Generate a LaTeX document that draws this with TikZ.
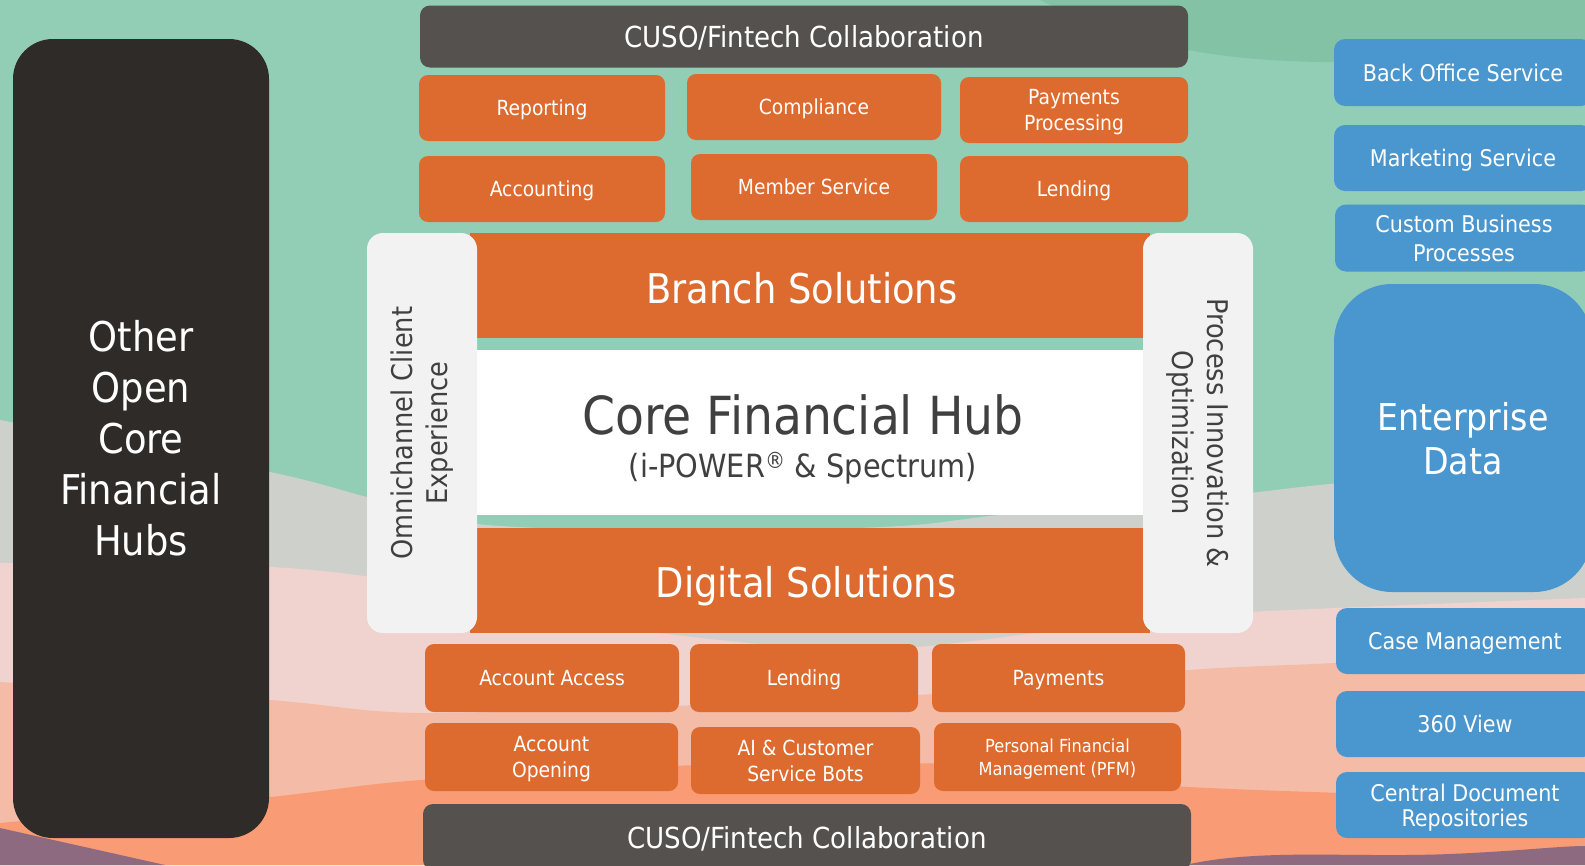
\documentclass[tikz,border=0pt]{standalone}
\usepackage{fontspec}
\setmainfont{DejaVu Sans Condensed}
\usetikzlibrary{positioning}

\definecolor{mint}{HTML}{92CDB6}
\definecolor{deepmint}{HTML}{83C2A5}
\definecolor{haze}{HTML}{CED1CB}
\definecolor{blush}{HTML}{F0D3CE}
\definecolor{salmon}{HTML}{F4BBA7}
\definecolor{peach}{HTML}{F99C75}
\definecolor{dusk}{HTML}{8D6A80}
\definecolor{hubor}{HTML}{DD6A2E}
\definecolor{bargray}{HTML}{55514E}
\definecolor{hubdark}{HTML}{2F2B29}
\definecolor{sidegray}{HTML}{F2F2F2}
\definecolor{svcblue}{HTML}{4A96CF}
\definecolor{inktext}{HTML}{404040}

\newcommand{\fsz}[2]{\fontsize{#1}{#2}\selectfont}

\begin{document}
\begin{tikzpicture}[x=1pt,y=-1pt,
  wh/.style 2 args={minimum width=#1pt, minimum height=#2pt},
  tile/.style={fill=hubor, text=white, rounded corners=9pt, inner sep=0pt, align=center, text depth=0pt, font=\fsz{20.8}{26}},
  bar/.style={fill=bargray, text=white, rounded corners=10pt, inner sep=0pt, text depth=0pt, font=\fsz{29}{34}},
  svc/.style={fill=svcblue, text=white, rounded corners=11pt, inner sep=0pt, align=center, text depth=0pt, font=\fsz{23}{27}},
  side/.style={fill=sidegray, rounded corners=16pt, inner sep=0pt},
  sidetext/.style={text=inktext, align=center, inner sep=0pt, font=\fsz{28.5}{35}},
  band/.style={fill=hubor, inner sep=0pt},
  bandtext/.style={text=white, inner sep=0pt, font=\fsz{41}{48}},
]
\useasboundingbox (0,0) rectangle (1585,865);
\clip (0,0) rectangle (1585,865);

% landscape behind the hub
\fill[mint] (0,0) rectangle (1585,865);
\fill[deepmint] (1040,0) .. controls (1120,40) and (1200,60) .. (1320,62) -- (1585,62) -- (1585,0) -- cycle;
\fill[haze] plot[smooth] coordinates {(0,420) (270,472) (367,497) (477,524) (700,532) (900,526) (1000,515) (1143,505) (1250,493) (1340,483) (1585,462)} -- (1585,865) -- (0,865) -- cycle;
\fill[blush] plot[smooth] coordinates {(0,563) (270,567) (420,585) (600,625) (860,650) (1100,625) (1250,612) (1585,598)} -- (1585,865) -- (0,865) -- cycle;
\fill[salmon] plot[smooth] coordinates {(0,682) (270,700) (420,713) (700,705) (1000,690) (1190,670) (1335,663) (1585,650)} -- (1585,865) -- (0,865) -- cycle;
\fill[peach] plot[smooth] coordinates {(0,823) (270,797) (420,780) (700,765) (1000,765) (1190,787) (1585,800)} -- (1585,865) -- (0,865) -- cycle;
\fill[dusk] (0,828) -- (165,865) -- (0,865) -- cycle;
\fill[dusk] (1185,865) .. controls (1260,848) and (1350,858) .. (1450,854) .. controls (1520,851) and (1560,846) .. (1585,846) -- (1585,865) -- cycle;

% other hubs
\node[fill=hubdark, rounded corners=40pt, wh={256}{799}, text=white, align=center, font=\fsz{41}{51}] (otherhubs) at (141,438.5) {Other\\Open\\Core\\Financial\\Hubs};

% top collaboration and back office tiles
\node[bar, wh={768}{62}] (cusotop) at (804,36.5) {CUSO/Fintech Collaboration};
\node[tile, wh={246}{66}] (reporting) at (542,108) {Reporting};
\node[tile, wh={254}{66}] (compliance) at (814,107) {Compliance};
\node[tile, wh={228}{66}] (payproc) at (1074,110) {Payments\\Processing};
\node[tile, wh={246}{66}] (accounting) at (542,189) {Accounting};
\node[tile, wh={246}{66}] (memberservice) at (814,187) {Member Service};
\node[tile, wh={228}{66}] (lendingtop) at (1074,189) {Lending};

% the hub
\node[band, wh={680}{105}] (branch) at (810,285.5) {};
\node[fill=white, inner sep=0pt, wh={666}{165}] (core) at (810,432.5) {};
\node[band, wh={680}{105}] (digital) at (810,580.5) {};
\node[bandtext] (branchlbl) at (802,288) {Branch Solutions};
\node[text=inktext, inner sep=0pt, font=\fsz{52.5}{58}] (corelbl) at (803,415) {Core Financial Hub};
\node[text=inktext, inner sep=0pt, font=\fsz{32}{36}] (coresub) at (803,468) {(i-POWER\textsuperscript{®} \& Spectrum)};
\node[bandtext] (digitallbl) at (806,586) {Digital Solutions};

\node[side, wh={110}{400}] (omni) at (422,433) {};
\node[sidetext, rotate=90] (omnilbl) at (omni) {Omnichannel Client\\Experience};
\node[side, wh={110}{400}] (procinno) at (1198,433) {};
\node[sidetext, rotate=-90] (procinnolbl) at (procinno) {Process Innovation \&\\Optimization};

% digital tiles
\node[tile, wh={254}{68}] (acctaccess) at (552,678) {Account Access};
\node[tile, wh={228}{68}] (lendingbot) at (804,678) {Lending};
\node[tile, wh={253}{68}] (payments) at (1058.5,678) {Payments};
\node[tile, wh={253}{68}] (acctopen) at (551.5,757) {Account\\Opening};
\node[tile, wh={229}{67}] (aibots) at (805.5,760.5) {AI \& Customer\\Service Bots};
\node[tile, wh={247}{68}, font=\fsz{18}{23}] (pfm) at (1057.5,757) {Personal Financial\\Management (PFM)};
\node[bar, wh={768}{66}] (cusobot) at (807,837) {CUSO/Fintech Collaboration};

% enterprise services
\node[svc, wh={258}{67}] (backoffice) at (1463,72.5) {Back Office Service};
\node[svc, wh={258}{66}] (marketing) at (1463,158) {Marketing Service};
\node[svc, wh={258}{67}, font=\fsz{23}{29}] (custombiz) at (1464,238) {Custom Business\\Processes};
\node[svc, wh={258}{308}, rounded corners=58pt, font=\fsz{37}{44}] (entdata) at (1463,438) {Enterprise\\Data};
\node[svc, wh={258}{66}] (casemgmt) at (1465,641) {Case Management};
\node[svc, wh={258}{66}] (view360) at (1465,724) {360 View};
\node[svc, wh={258}{66}, font=\fsz{23}{25}] (centraldoc) at (1465,805) {Central Document\\Repositories};
\end{tikzpicture}
\end{document}
